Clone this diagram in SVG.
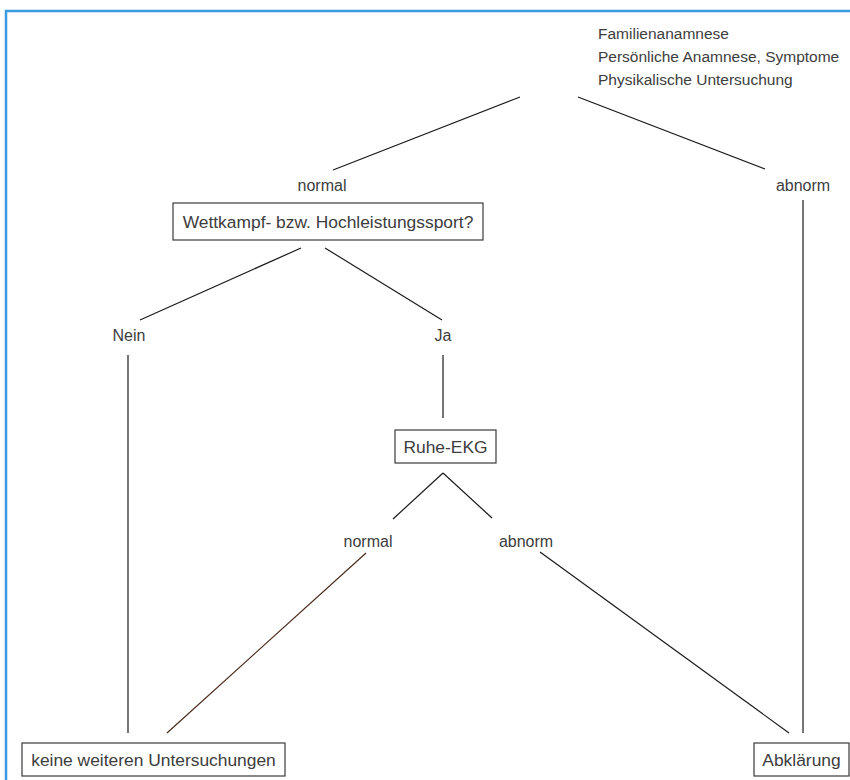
<svg xmlns="http://www.w3.org/2000/svg" width="850" height="780" viewBox="0 0 850 780">
<style>
text{font-family:"Liberation Sans",Arial,sans-serif;font-size:16px;fill:#3d3d3d}
.top{font-size:15.5px}
.bt{font-size:17.4px}
.c{text-anchor:middle}
.box{fill:#fff;stroke:#3a3a3a;stroke-width:1.2}
.ln{stroke:#1a1a1a;stroke-width:1.2;fill:none}
</style>
<rect width="850" height="780" fill="#fff"/>
<path d="M6,780 V11 H850" fill="none" stroke="#3a9be0" stroke-width="2.5"/>
<g id="connectors">
<line class="ln" x1="520" y1="97" x2="333" y2="170"/>
<line class="ln" x1="578" y1="97" x2="765" y2="169"/>
<line class="ln" x1="301" y1="248" x2="140" y2="320"/>
<line class="ln" x1="325" y1="248" x2="442" y2="320"/>
<line class="ln" x1="128" y1="355" x2="128" y2="733"/>
<line class="ln" x1="443" y1="355" x2="443" y2="418"/>
<line class="ln" x1="443" y1="473" x2="393" y2="519"/>
<line class="ln" x1="443" y1="473" x2="492" y2="518"/>
<line class="ln" x1="366" y1="553" x2="167" y2="733" style="stroke:#4a2a1a"/>
<line class="ln" x1="540" y1="552" x2="789" y2="733"/>
<line class="ln" x1="803" y1="200" x2="803" y2="733"/>
</g>
<g id="anamnese">
<text class="top" x="598" y="39">Familienanamnese</text>
<text class="top" x="598" y="62">Persönliche Anamnese, Symptome</text>
<text class="top" x="598" y="85">Physikalische Untersuchung</text>
</g>
<g id="normal1"><text class="c" x="322" y="191">normal</text></g>
<g id="abnorm1"><text class="c" x="803" y="191">abnorm</text></g>
<g id="wettkampf">
<rect class="box" x="173" y="203" width="310" height="37"/>
<text class="c bt" x="328" y="228">Wettkampf- bzw. Hochleistungssport?</text>
</g>
<g id="nein"><text class="c" x="129" y="341">Nein</text></g>
<g id="ja"><text class="c" x="443" y="341">Ja</text></g>
<g id="ruhe-ekg">
<rect class="box" x="395" y="430" width="101" height="33"/>
<text class="c bt" x="445.5" y="453">Ruhe-EKG</text>
</g>
<g id="normal2"><text class="c" x="368" y="547">normal</text></g>
<g id="abnorm2"><text class="c" x="526" y="547">abnorm</text></g>
<g id="keine">
<rect class="box" x="22" y="743" width="263" height="33"/>
<text class="c bt" x="153.5" y="766">keine weiteren Untersuchungen</text>
</g>
<g id="abklaerung">
<rect class="box" x="754" y="743" width="95" height="33"/>
<text class="c bt" x="801.5" y="766">Abklärung</text>
</g>
</svg>
